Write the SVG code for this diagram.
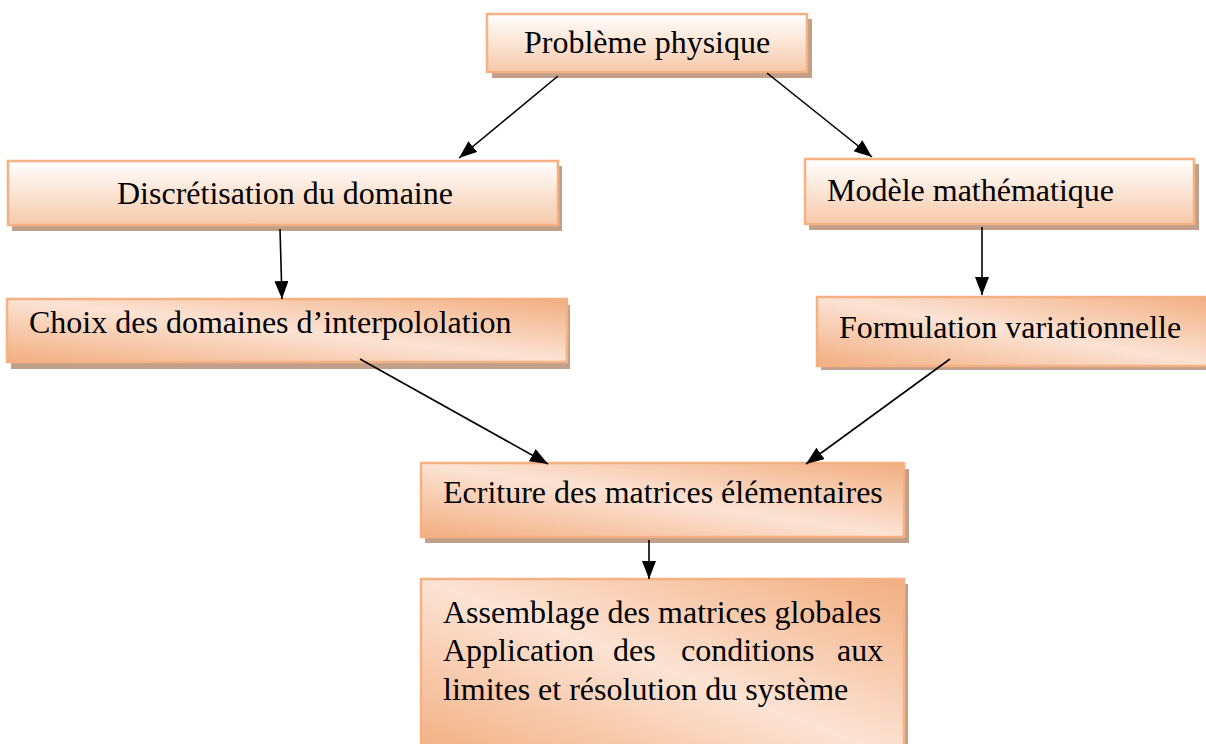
<svg xmlns="http://www.w3.org/2000/svg" width="1206" height="744" viewBox="0 0 1206 744">
  <defs>
    <!-- soft top-to-bottom fill: white fading into peach -->
    <linearGradient id="gradV" x1="0" y1="0" x2="0" y2="1">
      <stop offset="0" stop-color="#ffffff"/>
      <stop offset="1" stop-color="#f7c9a9"/>
    </linearGradient>
    <!-- diagonal fill: orange corners with a light centre -->
    <linearGradient id="gradD" x1="0" y1="1" x2="1" y2="0">
      <stop offset="0" stop-color="#f2ae80"/>
      <stop offset="0.5" stop-color="#fce3d4"/>
      <stop offset="1" stop-color="#f2ae80"/>
    </linearGradient>
    <marker id="arrow" markerUnits="userSpaceOnUse" markerWidth="20" markerHeight="16" refX="18" refY="7" orient="auto">
      <path d="M0,0 L18,7 L0,14 Z" fill="#000"/>
    </marker>
  </defs>
  <style>
    .shadow { fill: #c29f88; }
    .box { stroke: #f4b183; stroke-width: 2.5; }
    .v { fill: url(#gradV); }
    .d { fill: url(#gradD); }
    text { font-family: "Liberation Serif", "Times New Roman", serif; font-size: 32px; fill: #000; }
    .conn line { stroke: #000; stroke-width: 1.6; marker-end: url(#arrow); }
  </style>
  <rect width="1206" height="744" fill="#fff"/>

  <g id="probleme">
    <rect class="shadow" x="492" y="19" width="320" height="59"/>
    <rect class="box v" x="487" y="14" width="320" height="58"/>
    <text x="524" y="53">Problème physique</text>
  </g>

  <g id="discretisation">
    <rect class="shadow" x="12" y="166" width="550" height="65"/>
    <rect class="box v" x="8" y="161" width="550" height="64"/>
    <text x="117" y="204">Discrétisation du domaine</text>
  </g>

  <g id="modele">
    <rect class="shadow" x="809" y="164" width="390" height="66"/>
    <rect class="box v" x="805" y="159" width="389" height="65"/>
    <text x="827" y="201">Modèle mathématique</text>
  </g>

  <g id="choix">
    <rect class="shadow" x="11" y="305" width="559" height="64"/>
    <rect class="box d" x="7" y="299" width="560" height="63"/>
    <text x="29" y="333">Choix des domaines d’interpololation</text>
  </g>

  <g id="formulation">
    <rect class="shadow" x="821" y="303" width="400" height="67"/>
    <rect class="box d" x="817" y="297" width="400" height="69"/>
    <text x="839" y="338">Formulation variationnelle</text>
  </g>

  <g id="ecriture">
    <rect class="shadow" x="425" y="469" width="484" height="74"/>
    <rect class="box d" x="421" y="463" width="483" height="74"/>
    <text x="443" y="503">Ecriture des matrices élémentaires</text>
  </g>

  <g id="assemblage">
    <rect class="shadow" x="425" y="584" width="483" height="180"/>
    <rect class="box d" x="421" y="579" width="483" height="180"/>
    <text x="443" y="623">Assemblage des matrices globales</text>
    <text y="661"><tspan x="443">Application</tspan><tspan x="613">des</tspan><tspan x="681">conditions</tspan><tspan x="837">aux</tspan></text>
    <text x="443" y="700">limites et résolution du système</text>
  </g>

  <g id="connectors" class="conn">
    <line x1="558" y1="76" x2="459" y2="158"/>
    <line x1="767" y1="73" x2="872" y2="157"/>
    <line x1="280" y1="229" x2="282" y2="299"/>
    <line x1="982" y1="227" x2="982" y2="295"/>
    <line x1="360" y1="359" x2="548" y2="464"/>
    <line x1="950" y1="359" x2="806" y2="464"/>
    <line x1="649" y1="540" x2="649" y2="579"/>
  </g>
</svg>
